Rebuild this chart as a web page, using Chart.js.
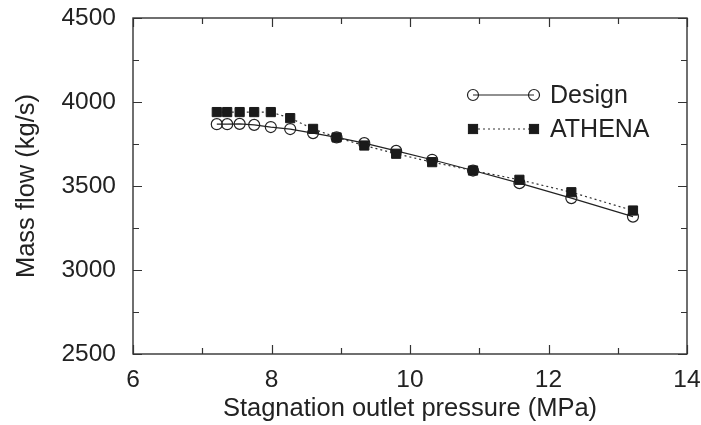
<!DOCTYPE html>
<html>
<head>
<meta charset="utf-8">
<script src="https://cdn.jsdelivr.net/npm/chart.js@4/dist/chart.umd.min.js"></script>
<style>
  html, body { margin: 0; padding: 0; background: #fff; }
  canvas { display: block; }
</style>
</head>
<body>
<canvas id="c" width="701" height="425"></canvas>
<script>
// ---- data ----
const pressure = [7.21, 7.36, 7.54, 7.75, 7.99, 8.27, 8.60, 8.94, 9.34, 9.80, 10.32, 10.91, 11.58, 12.33, 13.22];
const designFlow = [3868, 3868, 3870, 3864, 3851, 3839, 3815, 3789, 3755, 3709, 3656, 3592, 3517, 3428, 3318];
const athenaFlow = [3940, 3940, 3940, 3940, 3940, 3904, 3840, 3789, 3741, 3692, 3642, 3592, 3537, 3463, 3354];
const seriesNames = ["Design", "ATHENA"];
const xTicks = [6, 8, 10, 12, 14];
const yTicks = [2500, 3000, 3500, 4000, 4500];
const xTitle = "Stagnation outlet pressure (MPa)";
const yTitle = "Mass flow (kg/s)";

const FONT = "'Liberation Sans', Arial, Helvetica, sans-serif";
const INK = "#222";

const toPts = (ys) => pressure.map((x, i) => ({ x: x, y: ys[i] }));

// frame + inward major/minor ticks on all four sides, and a custom legend
const framePlugin = {
  id: "frame",
  afterDatasetsDraw(chart) {
    const { ctx, chartArea: a, scales: { x, y } } = chart;
    ctx.save();
    ctx.strokeStyle = "#333";
    ctx.lineWidth = 1.4;
    ctx.strokeRect(a.left, a.top, a.right - a.left, a.bottom - a.top);
    ctx.lineWidth = 1.2;
    const xStepMinor = (xTicks[1] - xTicks[0]) / 2;
    const yStepMinor = (yTicks[1] - yTicks[0]) / 2;
    ctx.beginPath();
    for (let v = xTicks[0]; v <= xTicks[xTicks.length - 1] + 1e-9; v += xStepMinor) {
      const px = Math.round(x.getPixelForValue(v)) + 0.5;
      const major = xTicks.some(t => Math.abs(t - v) < 1e-9);
      const len = major ? 9 : 6;
      ctx.moveTo(px, a.bottom); ctx.lineTo(px, a.bottom - len);
      ctx.moveTo(px, a.top); ctx.lineTo(px, a.top + len);
    }
    for (let v = yTicks[0]; v <= yTicks[yTicks.length - 1] + 1e-9; v += yStepMinor) {
      const py = Math.round(y.getPixelForValue(v)) + 0.5;
      const major = yTicks.some(t => Math.abs(t - v) < 1e-9);
      const len = major ? 9 : 6;
      ctx.moveTo(a.left, py); ctx.lineTo(a.left + len, py);
      ctx.moveTo(a.right, py); ctx.lineTo(a.right - len, py);
    }
    ctx.stroke();

    // legend
    const lx0 = 473, lx1 = 534, tx = 550;
    const rows = [95, 129];
    chart.data.datasets.forEach((ds, i) => {
      const ly = rows[i];
      ctx.strokeStyle = ds.borderColor;
      ctx.lineWidth = ds.borderWidth;
      ctx.setLineDash(ds.borderDash || []);
      ctx.beginPath(); ctx.moveTo(lx0, ly); ctx.lineTo(lx1, ly); ctx.stroke();
      ctx.setLineDash([]);
      [lx0, lx1].forEach(px => {
        ctx.lineWidth = ds.pointBorderWidth;
        ctx.strokeStyle = ds.pointBorderColor;
        ctx.fillStyle = ds.pointBackgroundColor;
        if (ds.pointStyle === "rect") {
          const s = Math.SQRT1_2 * ds.pointRadius;
          ctx.fillRect(px - s, ly - s, 2 * s, 2 * s);
          ctx.strokeRect(px - s, ly - s, 2 * s, 2 * s);
        } else {
          ctx.beginPath(); ctx.arc(px, ly, ds.pointRadius, 0, Math.PI * 2);
          ctx.fill(); ctx.stroke();
        }
      });
      ctx.fillStyle = INK;
      ctx.font = "25px " + FONT;
      ctx.textBaseline = "middle";
      ctx.textAlign = "left";
      ctx.fillText(ds.label, tx, ly + 1);
    });
    ctx.restore();
  }
};

new Chart(document.getElementById("c"), {
  type: "scatter",
  data: {
    datasets: [
      {
        label: seriesNames[0],
        data: toPts(designFlow),
        showLine: true,
        borderColor: "#222",
        borderWidth: 1.2,
        pointStyle: "circle",
        pointRadius: 5.5,
        pointBorderWidth: 1.2,
        pointBorderColor: "#222",
        pointBackgroundColor: "rgba(255,255,255,0)",
        order: 2
      },
      {
        label: seriesNames[1],
        data: toPts(athenaFlow),
        showLine: true,
        borderColor: "#333",
        borderWidth: 1.2,
        borderDash: [2, 3],
        pointStyle: "rect",
        pointRadius: 6.5,
        pointBorderWidth: 1,
        pointBorderColor: "#1a1a1a",
        pointBackgroundColor: "#1a1a1a",
        order: 1
      }
    ]
  },
  options: {
    responsive: false,
    animation: false,
    events: [],
    layout: { padding: { top: 18, right: 14, bottom: 0, left: 0 } },
    plugins: { legend: { display: false }, tooltip: { enabled: false } },
    scales: {
      x: {
        type: "linear",
        min: xTicks[0],
        max: xTicks[xTicks.length - 1],
        afterFit(s) { s.height = 71; s.paddingLeft = 0; s.paddingRight = 0; },
        afterBuildTicks(s) { s.ticks = xTicks.map(v => ({ value: v })); },
        grid: { display: false, drawTicks: false },
        border: { display: false },
        ticks: { color: INK, padding: 12, font: { family: FONT, size: 24.5 }, callback: v => String(v) },
        title: { display: true, text: xTitle, color: INK, padding: { top: 0, bottom: 1 }, font: { family: FONT, size: 25.5 } }
      },
      y: {
        type: "linear",
        min: yTicks[0],
        max: yTicks[yTicks.length - 1],
        afterFit(s) { s.width = 133; s.paddingTop = 0; s.paddingBottom = 0; },
        afterBuildTicks(s) { s.ticks = yTicks.map(v => ({ value: v })); },
        grid: { display: false, drawTicks: false },
        border: { display: false },
        ticks: { color: INK, padding: 17, font: { family: FONT, size: 24.5 }, callback: v => String(v) },
        title: { display: true, text: yTitle, color: INK, padding: { top: 12, bottom: 0 }, font: { family: FONT, size: 25.5 } }
      }
    }
  },
  plugins: [framePlugin]
});
</script>
</body>
</html>
